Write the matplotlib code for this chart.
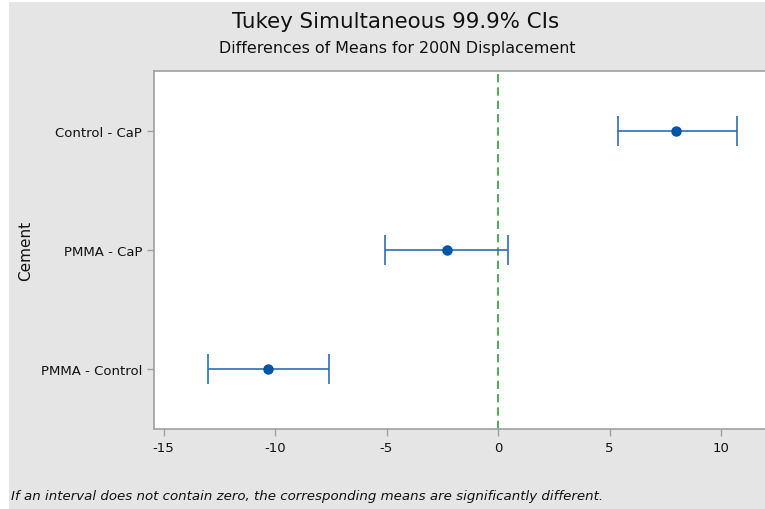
import matplotlib
matplotlib.use('Agg')
import matplotlib.pyplot as plt
from matplotlib.patches import Rectangle

# comparaciones Tukey (de abajo hacia arriba)
pares = ["PMMA - Control", "PMMA - CaP", "Control - CaP"]
centro = [-10.3, -2.3, 8.0]
inferior = [-13.0, -5.05, 5.4]
superior = [-7.6, 0.45, 10.7]
xticks = [-15, -10, -5, 0, 5, 10]

gris = "#E5E5E5"
borde = "#A0A0A0"
azul = "#0055A5"

plt.rcParams['font.family'] = ['DejaVu Sans']
fig = plt.figure(figsize=(7.65, 5.1), dpi=100, facecolor="white")
fig.patches.append(Rectangle((9/765, 0), 1, 1 - 3/510, transform=fig.transFigure,
                             facecolor=gris, edgecolor="none", zorder=-10))

ax = fig.add_axes([154/765, 1 - 430/510, (770 - 154)/765, (430 - 72)/510])
ax.set_facecolor("white")

ypos = list(range(len(pares)))
err = [[c - lo for c, lo in zip(centro, inferior)],
       [hi - c for c, hi in zip(centro, superior)]]
ax.errorbar(centro, ypos, xerr=err, fmt='o', color=azul, ecolor="#2E6DB4",
            markersize=6.5, elinewidth=1.2, capsize=11, capthick=1.2, zorder=3)
ax.axvline(0, color="#2E9E3E", linestyle=(0, (5, 3)), linewidth=1.2, zorder=2)

ax.set_xlim((154 - 498)/22.3, (770 - 498)/22.3)
ax.set_ylim(-0.5, 2.5)
ax.set_xticks(xticks)
ax.set_xticklabels([str(t) for t in xticks])
ax.set_yticks(ypos)
ax.set_yticklabels(pares)
ax.tick_params(colors=borde, labelcolor="#111111", labelsize=9.5, length=5, width=1)
ax.tick_params(axis='x', pad=4)
for s in ["left", "bottom", "top"]:
    ax.spines[s].set_color(borde)
    ax.spines[s].set_linewidth(1.2)
ax.spines["right"].set_visible(False)

ax.set_ylabel("Cement", fontsize=11, color="#111111")
ax.yaxis.set_label_coords((33 - 154)/(770 - 154), 0.5)

fig.text(396/765, 1 - 22/510, "Tukey Simultaneous 99.9% CIs", ha="center", va="center",
         fontsize=15.4, color="#111111")
fig.text(397/765, 1 - 49/510, "Differences of Means for 200N Displacement", ha="center",
         va="center", fontsize=11.4, color="#111111")
fig.text(11/765, 1 - 497/510,
         "If an interval does not contain zero, the corresponding means are significantly different.",
         ha="left", va="center", fontsize=9.6, style="italic", color="#111111")

fig.savefig("out.png", dpi=100, facecolor="white")
